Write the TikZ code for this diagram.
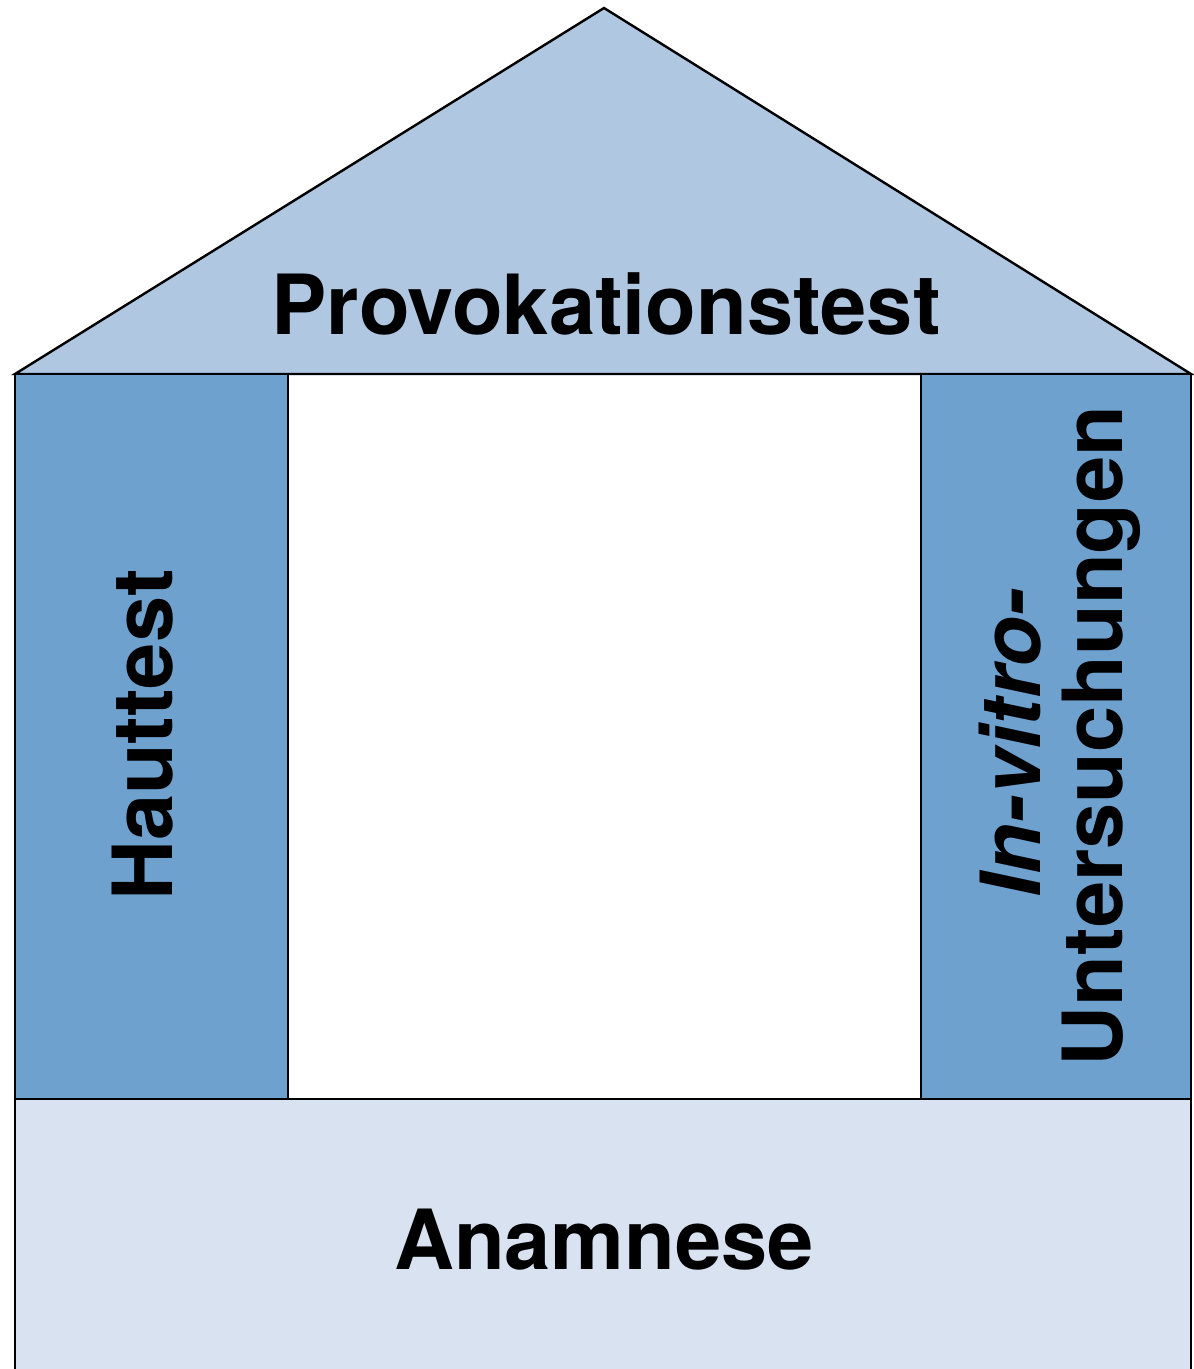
\documentclass[tikz,border=0pt]{standalone}
\usepackage{fontspec}
\setmainfont{TeX Gyre Heros}
\definecolor{roofblue}{RGB}{176,199,226}
\definecolor{pillarblue}{RGB}{110,161,206}
\definecolor{baseblue}{RGB}{217,226,240}
\begin{document}
\begin{tikzpicture}[x=0.5pt,y=-0.5pt,line width=1.2pt,line join=miter,
    every node/.style={font=\fontsize{41.5}{41.5}\selectfont\bfseries,inner sep=0pt}]
    \useasboundingbox (0,0) rectangle (1193,1369);
    \fill[white] (0,0) rectangle (1193,1369);
    % Dach
    \filldraw[fill=roofblue] (15,374) -- (604,8) -- (1191,374) -- cycle;
    % Saeulen
    \filldraw[fill=pillarblue] (15,374) rectangle (288,1099);
    \filldraw[fill=pillarblue] (921,374) rectangle (1191,1099);
    % Fundament
    \filldraw[fill=baseblue] (15,1380) -- (15,1099) -- (1191,1099) -- (1191,1380);
    \node[anchor=base] (provo) at (606,335) {Provokationstest};
    \node[anchor=base,rotate=90] (haut) at (172,735) {Hauttest};
    \node[anchor=base,rotate=90] (invitro) at (1040,743) {\itshape In-vitro-};
    \node[anchor=base,rotate=90] (unters) at (1122,736) {Untersuchungen};
    \node[anchor=base] (anam) at (604,1269) {Anamnese};
\end{tikzpicture}
\end{document}
